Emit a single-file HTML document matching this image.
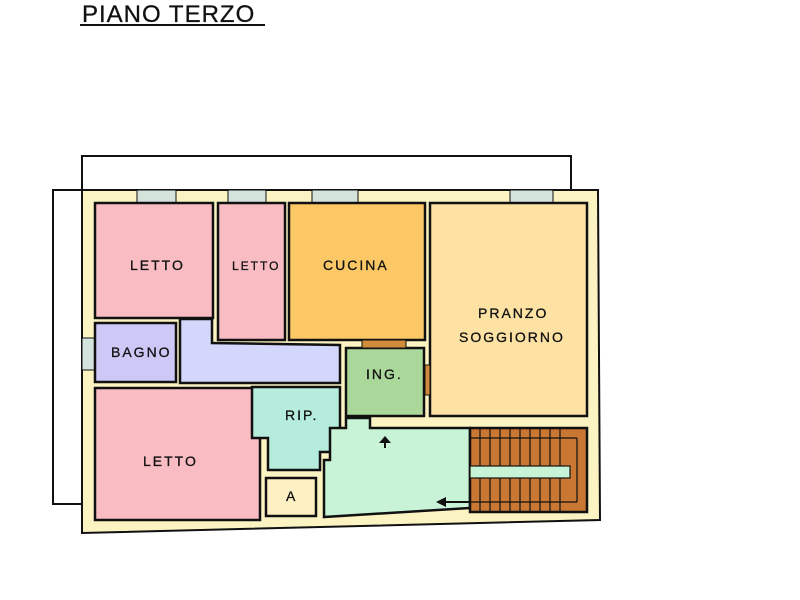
<!DOCTYPE html>
<html><head><meta charset="utf-8"><style>
body{margin:0;background:#fff;width:800px;height:600px;overflow:hidden}
svg{display:block}
text{font-family:"Liberation Sans",sans-serif;fill:#111;letter-spacing:2px;stroke:#111;stroke-width:0.3}
</style></head><body>
<svg width="800" height="600" viewBox="0 0 800 600">
<text x="82" y="22" font-size="24" style="letter-spacing:1px">PIANO TERZO</text>
<line x1="80" y1="25" x2="265" y2="25" stroke="#111" stroke-width="2"/>
<g stroke="#111" stroke-width="2">
<rect x="82" y="156" width="489" height="34" fill="#fff"/>
<rect x="53" y="190" width="29" height="314" fill="#fff"/>
<polygon points="82,190 598,190 600,520 82,533" fill="#fcf3c3"/>
</g>
<g fill="#d5e3dd" stroke="#111" stroke-width="1">
<rect x="137" y="190" width="39" height="13"/><rect x="228" y="190" width="38" height="13"/>
<rect x="312" y="190" width="46" height="13"/><rect x="510" y="190" width="43" height="13"/>
<rect x="82" y="338" width="13" height="32"/>
</g>
<g stroke="#111" stroke-width="2.5">
<rect x="95" y="203" width="118" height="115" fill="#f9bcc3"/>
<rect x="218" y="203" width="67" height="137" fill="#f9bcc3"/>
<rect x="289" y="203" width="136" height="137" fill="#fcc866"/>
<rect x="430" y="203" width="157" height="213" fill="#fde2a4"/>
<rect x="95" y="323" width="81" height="59" fill="#cec8f6"/>
<polygon points="180,319 212,319 212,343 340,345 340,383 180,383" fill="#d3d7fb"/>
<rect x="346" y="348" width="78" height="68" fill="#aad89b"/>
<rect x="95" y="388" width="165" height="132" fill="#f9bcc3"/>
<polygon points="252,387 340,387 340,452 320,452 320,470 268,470 268,438 252,438" fill="#b5ecdb"/>
<polygon points="324,460 330,460 330,428 346,428 346,418 370,418 370,428 470,428 470,508 324,517" fill="#c9f3d6"/>
<rect x="470" y="428" width="117" height="84" fill="#c97733"/>
<rect x="266" y="478" width="50" height="38" fill="#fdf0c2"/>
<rect x="362" y="340" width="44" height="8" fill="#d08a3c" stroke-width="1"/>
<rect x="425" y="365" width="5" height="30" fill="#d08a3c" stroke-width="1"/>
</g>
<g stroke="#111" stroke-width="1.2">
<line x1="480" y1="428" x2="480" y2="512"/><line x1="490" y1="428" x2="490" y2="512"/>
<line x1="500" y1="428" x2="500" y2="512"/><line x1="510" y1="428" x2="510" y2="512"/>
<line x1="520" y1="428" x2="520" y2="512"/><line x1="530" y1="428" x2="530" y2="512"/>
<line x1="540" y1="428" x2="540" y2="512"/><line x1="550" y1="428" x2="550" y2="512"/>
<line x1="560" y1="428" x2="560" y2="512"/>
<line x1="470" y1="438" x2="577" y2="438"/><line x1="577" y1="438" x2="577" y2="502"/>
<line x1="470" y1="502" x2="577" y2="502"/>
</g>
<rect x="470" y="466" width="100" height="12" fill="#c9f3d6" stroke="#111" stroke-width="1.2"/>
<line x1="440" y1="502" x2="470" y2="502" stroke="#111" stroke-width="2"/>
<polygon points="436,502 446,497 446,507" fill="#111"/>
<polygon points="385,436 379,443 391,443" fill="#111"/>
<line x1="385" y1="442" x2="385" y2="448" stroke="#111" stroke-width="2"/>
<g font-size="14">
<text x="130" y="270">LETTO</text>
<text x="232" y="270" font-size="12">LETTO</text>
<text x="323" y="270">CUCINA</text>
<text x="478" y="318">PRANZO</text>
<text x="459" y="342">SOGGIORNO</text>
<text x="111" y="357">BAGNO</text>
<text x="366" y="379">ING.</text>
<text x="285" y="420">RIP.</text>
<text x="143" y="466">LETTO</text>
<text x="286" y="501">A</text>
</g>
</svg>
</body></html>
